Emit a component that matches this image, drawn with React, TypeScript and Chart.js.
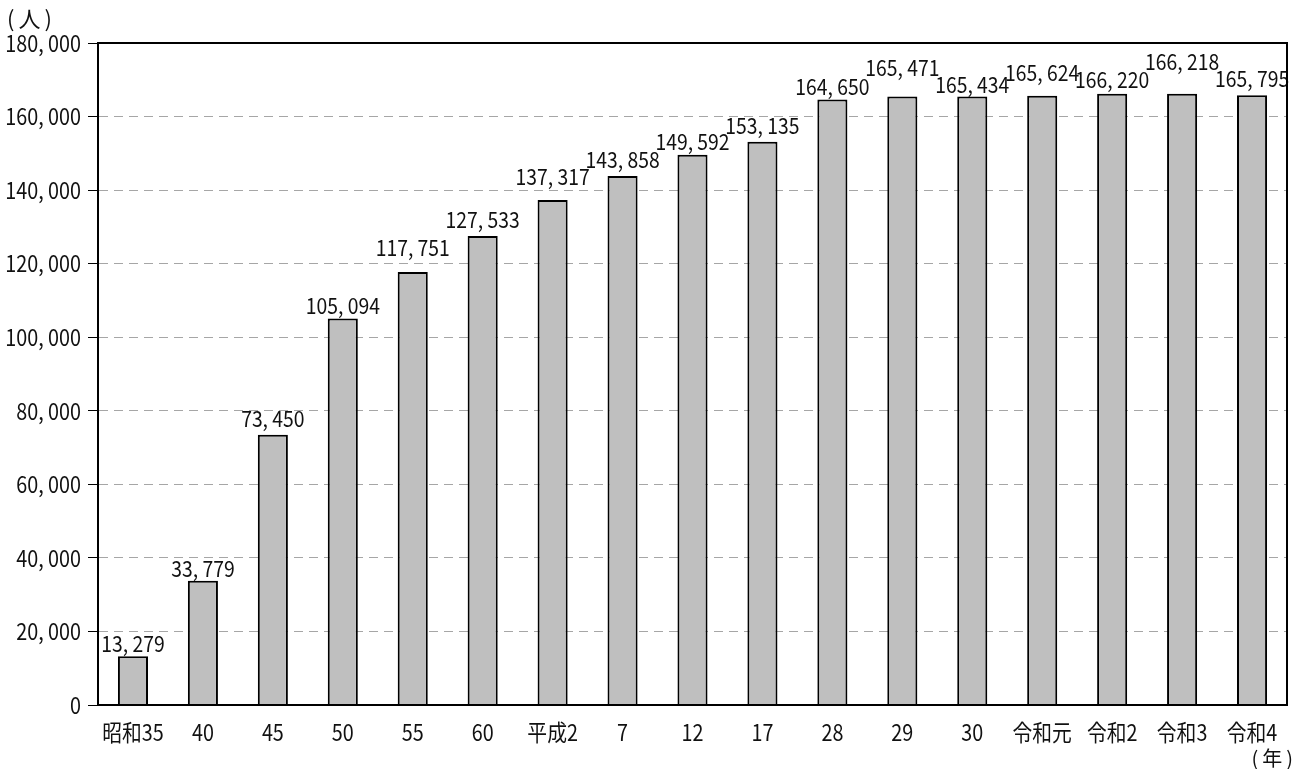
import React, { useEffect, useRef } from "react";
import { Chart, registerables } from "chart.js";

Chart.register(...registerables);

const categories = ["昭和35", "40", "45", "50", "55", "60", "平成2", "7", "12", "17", "28", "29", "30", "令和元", "令和2", "令和3", "令和4"];
const values = [13279, 33779, 73450, 105094, 117751, 127533, 137317, 143858, 149592, 153135, 164650, 165471, 165434, 165624, 166220, 166218, 165795];
const yTicks = [0, 20000, 40000, 60000, 80000, 100000, 120000, 140000, 160000, 180000];
const yUnit = "(人)";
const xUnit = "(年)";

const FONT = '"Noto Sans CJK JP", "DejaVu Sans", sans-serif';
// gap (px) between each value label and the top of its bar
const labelGap = [4, 4, 8, 4, 16, 8, 15, 8, 5, 8, 4, 20, 4, 15, 6, 24, 8];

const fmt = (v: number) => v.toLocaleString("en-US").replace(/,/g, ", ");

function drawText(ctx: any, text: string, x: number, y: number, align: string, size: number, sx = 0.82, baseline = "middle", spacing = "0px") {
  ctx.save();
  ctx.translate(x, y);
  ctx.scale(sx, 1);
  ctx.font = `${size}px ${FONT}`;
  ctx.textAlign = align;
  ctx.textBaseline = baseline;
  ctx.fillStyle = "#111";
  if ("letterSpacing" in ctx) ctx.letterSpacing = spacing;
  ctx.fillText(text, 0, 0);
  ctx.restore();
}

const labelsPlugin = {
  id: "valueLabels",
  afterDatasetsDraw(chart: any) {
    const ctx = chart.ctx;
    const meta = chart.getDatasetMeta(0);
    meta.data.forEach((bar: any, i: number) => {
      drawText(ctx, fmt(values[i]), bar.x, bar.y - labelGap[i], "center", 22, 0.88, "alphabetic");
    });
    const a = chart.chartArea;
    ctx.save();
    ctx.strokeStyle = "#000";
    ctx.lineWidth = 2;
    ctx.strokeRect(a.left, a.top, a.right - a.left, a.bottom - a.top);
    ctx.restore();
    const ys = chart.scales.y;
    yTicks.forEach((v) => drawText(ctx, fmt(v), 81, ys.getPixelForValue(v), "right", 23, 0.86));
    const xs = chart.scales.x;
    categories.forEach((c, i) => drawText(ctx, c, xs.getPixelForTick(i), 732, "center", 23, 0.86));
    drawText(ctx, yUnit, 7, 19, "left", 22, 1, "middle", "4px");
    drawText(ctx, xUnit, 1297, 758, "right", 20, 1, "middle", "4px");
  },
};

export default function App() {
  const ref = useRef<HTMLCanvasElement | null>(null);
  useEffect(() => {
    if (!ref.current) return;
    const chart = new Chart(ref.current, {
      type: "bar",
      data: {
        labels: categories,
        datasets: [
          {
            data: values,
            backgroundColor: "#bfbfbf",
            borderColor: "#000",
            borderWidth: 2,
            barPercentage: 0.86,
            categoryPercentage: 0.5,
          },
        ],
      },
      options: {
        responsive: false,
        animation: false,
        layout: { padding: { top: 43, right: 14, left: 0, bottom: 0 } },
        plugins: { legend: { display: false }, tooltip: { enabled: false } },
        scales: {
          x: {
            grid: { display: false },
            border: { display: true, color: "#000", width: 2 },
            ticks: { display: false, autoSkip: false },
            afterFit: (s: any) => { s.height = 64; },
          },
          y: {
            min: 0,
            max: 180000,
            ticks: { display: false, stepSize: 20000 },
            grid: {
              color: (c: any) => (c.tick && (c.tick.value === 180000 || c.tick.value === 0) ? "rgba(0,0,0,0)" : "#a6a6a6"),
              tickColor: "#000",
              tickLength: 10,
              lineWidth: 1,
              tickBorderDash: [],
            },
            border: { display: true, color: "#000", width: 2, dash: [9, 6] },
            afterFit: (s: any) => { s.width = 98; },
          },
        },
      },
      plugins: [labelsPlugin],
    });
    return () => chart.destroy();
  }, []);
  return (
    <div style={{ position: "absolute", left: 0, top: 0, width: 1301, height: 769, background: "#fff" }}>
      <canvas ref={ref} width={1301} height={769} />
    </div>
  );
}
